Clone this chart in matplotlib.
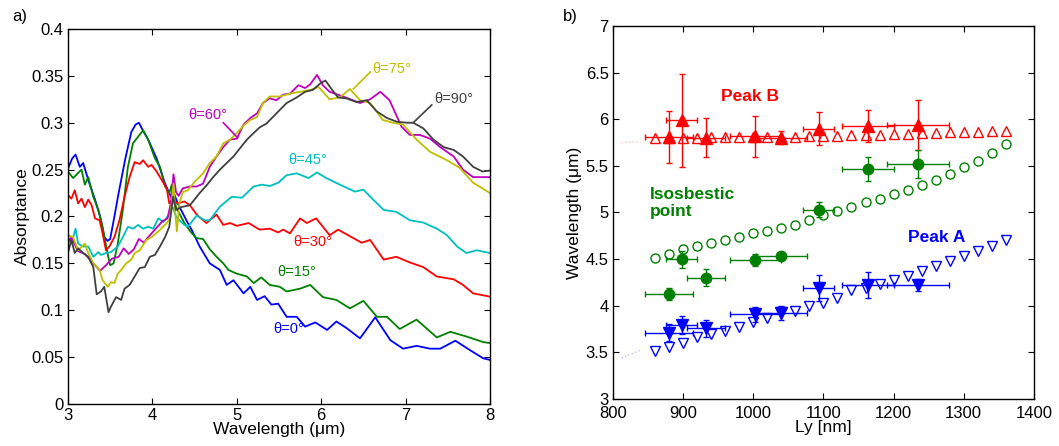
import numpy as np
import matplotlib
matplotlib.use("Agg")
import matplotlib.pyplot as plt
from matplotlib.ticker import FormatStrFormatter

plt.rcParams['font.family'] = ['Liberation Sans', 'DejaVu Sans']

# ---- panel a) absorptance spectra ----
wl_0 = [3.00, 3.05, 3.09, 3.14, 3.18, 3.24, 3.32, 3.38, 3.43, 3.47, 3.50, 3.55, 3.60, 3.68, 3.75, 3.80,
        3.84, 3.88, 3.95, 4.05, 4.15, 4.22, 4.25, 4.30, 4.42, 4.47, 4.56, 4.68, 4.80, 4.88, 4.96, 5.08,
        5.16, 5.24, 5.33, 5.41, 5.49, 5.59, 5.71, 5.81, 5.93, 6.07, 6.18, 6.30, 6.46, 6.64, 6.82, 6.97,
        7.13, 7.29, 7.41, 7.59, 7.76, 7.92, 8.00]
ab_0 = [0.251, 0.262, 0.266, 0.253, 0.257, 0.239, 0.218, 0.200, 0.178, 0.174, 0.176, 0.200, 0.225, 0.262,
        0.290, 0.298, 0.300, 0.293, 0.282, 0.262, 0.235, 0.221, 0.226, 0.214, 0.193, 0.185, 0.168, 0.150,
        0.143, 0.127, 0.132, 0.118, 0.125, 0.111, 0.115, 0.106, 0.107, 0.093, 0.093, 0.0825, 0.087, 0.079,
        0.088, 0.081, 0.070, 0.0925, 0.068, 0.059, 0.062, 0.059, 0.059, 0.0675, 0.0576, 0.0487, 0.047]

wl_15 = [3.00, 3.06, 3.16, 3.20, 3.24, 3.30, 3.36, 3.41, 3.47, 3.50, 3.54, 3.59, 3.65, 3.71, 3.77, 3.83,
         3.89, 3.95, 4.03, 4.09, 4.15, 4.20, 4.23, 4.28, 4.38, 4.45, 4.52, 4.60, 4.68, 4.76, 4.84, 4.90,
         5.00, 5.12, 5.20, 5.29, 5.39, 5.51, 5.59, 5.75, 5.87, 6.02, 6.18, 6.34, 6.50, 6.66, 6.78, 6.93,
         7.13, 7.37, 7.53, 7.72, 7.92, 8.00]
ab_15 = [0.248, 0.241, 0.250, 0.234, 0.242, 0.221, 0.207, 0.189, 0.160, 0.148, 0.150, 0.171, 0.207, 0.253,
         0.278, 0.285, 0.292, 0.282, 0.262, 0.253, 0.232, 0.225, 0.234, 0.210, 0.193, 0.184, 0.177, 0.176,
         0.165, 0.157, 0.150, 0.143, 0.139, 0.136, 0.129, 0.135, 0.127, 0.125, 0.120, 0.123, 0.127, 0.114,
         0.111, 0.102, 0.110, 0.093, 0.093, 0.080, 0.090, 0.071, 0.077, 0.072, 0.066, 0.065]

wl_30 = [3.00, 3.04, 3.08, 3.12, 3.16, 3.20, 3.24, 3.28, 3.32, 3.375, 3.41, 3.45, 3.49, 3.55, 3.61, 3.67,
         3.73, 3.79, 3.85, 3.89, 3.95, 3.99, 4.05, 4.11, 4.17, 4.20, 4.24, 4.30, 4.38, 4.445, 4.525, 4.64,
         4.76, 4.84, 4.92, 5.00, 5.14, 5.27, 5.39, 5.49, 5.55, 5.63, 5.75, 5.83, 5.94, 6.02, 6.10, 6.20,
         6.34, 6.48, 6.58, 6.74, 6.89, 7.05, 7.21, 7.37, 7.57, 7.68, 7.80, 8.00]
ab_30 = [0.223, 0.219, 0.228, 0.214, 0.219, 0.210, 0.218, 0.212, 0.198, 0.196, 0.182, 0.164, 0.168, 0.178,
         0.196, 0.221, 0.242, 0.258, 0.256, 0.260, 0.253, 0.255, 0.248, 0.239, 0.230, 0.214, 0.218, 0.214,
         0.216, 0.212, 0.202, 0.193, 0.202, 0.191, 0.193, 0.190, 0.193, 0.186, 0.187, 0.183, 0.186, 0.182,
         0.198, 0.193, 0.198, 0.189, 0.180, 0.186, 0.179, 0.172, 0.175, 0.154, 0.157, 0.151, 0.146, 0.136,
         0.133, 0.127, 0.118, 0.1145]

wl_45 = [3.00, 3.04, 3.09, 3.12, 3.18, 3.24, 3.30, 3.36, 3.39, 3.45, 3.51, 3.59, 3.65, 3.71, 3.77, 3.83,
         3.89, 3.95, 4.01, 4.07, 4.13, 4.18, 4.24, 4.28, 4.32, 4.38, 4.42, 4.525, 4.62, 4.68, 4.80, 4.94,
         5.06, 5.20, 5.30, 5.39, 5.49, 5.59, 5.71, 5.85, 5.95, 6.06, 6.22, 6.40, 6.50, 6.62, 6.74, 6.89,
         7.05, 7.21, 7.37, 7.49, 7.61, 7.72, 7.84, 8.00]
ab_45 = [0.178, 0.171, 0.187, 0.171, 0.168, 0.168, 0.157, 0.162, 0.159, 0.161, 0.162, 0.168, 0.178, 0.189,
         0.187, 0.191, 0.187, 0.189, 0.187, 0.198, 0.194, 0.200, 0.210, 0.200, 0.196, 0.191, 0.189, 0.201,
         0.196, 0.196, 0.2105, 0.221, 0.220, 0.232, 0.234, 0.2325, 0.236, 0.244, 0.246, 0.241, 0.247, 0.241,
         0.234, 0.2265, 0.2287, 0.2176, 0.207, 0.205, 0.196, 0.1935, 0.187, 0.180, 0.168, 0.161, 0.164, 0.161]

wl_60 = [3.00, 3.04, 3.08, 3.12, 3.20, 3.28, 3.34, 3.38, 3.45, 3.52, 3.60, 3.66, 3.72, 3.78, 3.84, 3.90,
         3.95, 4.05, 4.12, 4.18, 4.22, 4.25, 4.28, 4.31, 4.36, 4.445, 4.525, 4.60, 4.68, 4.76, 4.84, 4.92,
         5.00, 5.08, 5.16, 5.24, 5.31, 5.39, 5.47, 5.55, 5.63, 5.73, 5.81, 5.87, 5.95, 6.02, 6.10, 6.26,
         6.46, 6.58, 6.70, 6.81, 6.95, 7.05, 7.17, 7.29, 7.41, 7.57, 7.68, 7.80, 8.00]
ab_60 = [0.172, 0.178, 0.170, 0.163, 0.160, 0.152, 0.146, 0.142, 0.148, 0.155, 0.157, 0.166, 0.160, 0.165,
         0.176, 0.172, 0.178, 0.188, 0.195, 0.198, 0.215, 0.245, 0.226, 0.222, 0.230, 0.232, 0.232, 0.235,
         0.253, 0.264, 0.274, 0.282, 0.283, 0.298, 0.305, 0.310, 0.321, 0.326, 0.324, 0.330, 0.331, 0.340,
         0.337, 0.341, 0.351, 0.340, 0.333, 0.328, 0.321, 0.325, 0.333, 0.324, 0.296, 0.287, 0.287, 0.283,
         0.274, 0.264, 0.250, 0.242, 0.242]

wl_75 = [3.00, 3.06, 3.12, 3.20, 3.24, 3.30, 3.375, 3.41, 3.47, 3.51, 3.55, 3.59, 3.63, 3.69, 3.75, 3.79,
         3.85, 3.93, 3.99, 4.07, 4.17, 4.21, 4.25, 4.27, 4.29, 4.32, 4.36, 4.42, 4.50, 4.60, 4.68, 4.76,
         4.84, 4.92, 5.00, 5.08, 5.16, 5.24, 5.31, 5.39, 5.51, 5.63, 5.75, 5.87, 5.97, 6.02, 6.10, 6.22,
         6.34, 6.46, 6.58, 6.73, 6.85, 6.97, 7.13, 7.29, 7.49, 7.64, 7.80, 8.00]
ab_75 = [0.180, 0.178, 0.164, 0.171, 0.161, 0.150, 0.143, 0.132, 0.125, 0.130, 0.129, 0.139, 0.143, 0.150,
         0.154, 0.161, 0.164, 0.175, 0.178, 0.184, 0.193, 0.198, 0.235, 0.205, 0.184, 0.214, 0.226, 0.228,
         0.237, 0.246, 0.257, 0.264, 0.278, 0.282, 0.289, 0.297, 0.303, 0.306, 0.321, 0.328, 0.328, 0.331,
         0.333, 0.335, 0.338, 0.333, 0.325, 0.327, 0.336, 0.324, 0.321, 0.303, 0.300, 0.298, 0.282, 0.269,
         0.260, 0.252, 0.236, 0.225]

wl_90 = [3.00, 3.04, 3.08, 3.12, 3.18, 3.24, 3.30, 3.34, 3.39, 3.43, 3.48, 3.51, 3.57, 3.63, 3.67, 3.73,
         3.79, 3.85, 3.91, 3.97, 4.03, 4.09, 4.15, 4.20, 4.245, 4.28, 4.34, 4.445, 4.56, 4.64, 4.72, 4.80,
         4.88, 4.96, 5.04, 5.12, 5.20, 5.27, 5.35, 5.47, 5.59, 5.71, 5.81, 5.90, 5.99, 6.05, 6.13, 6.20,
         6.30, 6.42, 6.54, 6.66, 6.78, 6.90, 7.02, 7.09, 7.21, 7.33, 7.45, 7.57, 7.68, 7.80, 7.91, 8.00]
ab_90 = [0.161, 0.175, 0.161, 0.166, 0.161, 0.157, 0.146, 0.117, 0.120, 0.125, 0.098, 0.104, 0.114, 0.111,
         0.123, 0.127, 0.136, 0.145, 0.146, 0.157, 0.159, 0.168, 0.178, 0.189, 0.221, 0.207, 0.210, 0.212,
         0.225, 0.233, 0.242, 0.250, 0.257, 0.264, 0.273, 0.282, 0.289, 0.295, 0.299, 0.310, 0.321, 0.327,
         0.333, 0.335, 0.342, 0.345, 0.335, 0.327, 0.326, 0.322, 0.324, 0.312, 0.305, 0.301, 0.300, 0.300,
         0.294, 0.282, 0.274, 0.271, 0.264, 0.253, 0.248, 0.249]

# ---- panel b) peak positions vs Ly ----
ly_sim = [860, 880, 900, 920, 940, 960, 980, 1000, 1020, 1040, 1060, 1080, 1100, 1120, 1140, 1160,
          1180, 1200, 1220, 1240, 1260, 1280, 1300, 1320, 1340, 1360]
peakB_sim = [5.80, 5.80, 5.80, 5.80, 5.81, 5.81, 5.81, 5.81, 5.81, 5.81, 5.81, 5.82, 5.82, 5.82, 5.83,
             5.83, 5.83, 5.84, 5.84, 5.85, 5.85, 5.86, 5.86, 5.86, 5.87, 5.87]
iso_sim = [4.51, 4.56, 4.605, 4.645, 4.675, 4.705, 4.74, 4.775, 4.805, 4.835, 4.87, 4.92, 4.97, 5.02,
           5.06, 5.11, 5.15, 5.20, 5.245, 5.295, 5.345, 5.41, 5.485, 5.555, 5.64, 5.735]
peakA_sim = [3.51, 3.56, 3.60, 3.67, 3.70, 3.73, 3.775, 3.83, 3.865, 3.935, 3.94, 4.00, 4.03, 4.08,
             4.17, 4.19, 4.23, 4.28, 4.32, 4.375, 4.43, 4.48, 4.53, 4.59, 4.64, 4.705]

ly_exp = [880, 898, 933, 1003, 1040, 1093, 1164, 1235]
ly_err = [34, 22, 27, 36, 36, 22, 37, 44]
peakB_exp = [5.81, 5.99, 5.80, 5.82, 5.80, 5.90, 5.93, 5.94]
peakB_err = [0.28, 0.50, 0.21, 0.22, 0.07, 0.18, 0.17, 0.265]
iso_exp = [4.13, 4.50, 4.30, 4.49, 4.53, 5.03, 5.47, 5.52]
iso_err = [0.065, 0.09, 0.09, 0.06, 0.04, 0.08, 0.13, 0.145]
peakA_exp = [3.71, 3.79, 3.76, 3.91, 3.92, 4.19, 4.22, 4.22]
peakA_err = [0.09, 0.095, 0.09, 0.08, 0.075, 0.135, 0.14, 0.063]

# faint leftovers left of the simulated series
ly_faint = [812, 838]
peakB_faint = [5.75, 5.76]
peakA_faint = [3.44, 3.52]

blue = '#0000ff'
green = '#008000'
red = '#ff0000'
cyan = '#00bfbf'
magenta = '#bf00bf'
yellow = '#bfbf00'
dark = '#404040'

fig = plt.figure(figsize=(10.59, 4.46), dpi=100)
ax1 = fig.add_axes([0.0642, 0.0942, 0.3985, 0.8408])
ax2 = fig.add_axes([0.5788, 0.1054, 0.3975, 0.8363])

lw = 1.3
ax1.plot(wl_0, ab_0, color=blue, lw=lw)
ax1.plot(wl_15, ab_15, color=green, lw=lw)
ax1.plot(wl_30, ab_30, color=red, lw=lw)
ax1.plot(wl_45, ab_45, color=cyan, lw=lw)
ax1.plot(wl_60, ab_60, color=magenta, lw=lw)
ax1.plot(wl_75, ab_75, color=yellow, lw=lw)
ax1.plot(wl_90, ab_90, color=dark, lw=lw)

fs_ann = 10.5
ax1.text(5.61, 0.080, 'θ=0°', color=blue, fontsize=fs_ann, ha='center', va='center')
ax1.text(5.71, 0.141, 'θ=15°', color=green, fontsize=fs_ann, ha='center', va='center')
ax1.text(5.90, 0.173, 'θ=30°', color=red, fontsize=fs_ann, ha='center', va='center')
ax1.text(5.84, 0.260, 'θ=45°', color=cyan, fontsize=fs_ann, ha='center', va='center')
ax1.text(4.65, 0.308, 'θ=60°', color=magenta, fontsize=fs_ann, ha='center', va='center')
ax1.plot([4.84, 5.01], [0.300, 0.284], color=magenta, lw=1.2)
ax1.text(6.84, 0.357, 'θ=75°', color=yellow, fontsize=fs_ann, ha='center', va='center')
ax1.plot([6.58, 6.38], [0.354, 0.336], color=yellow, lw=1.2)
ax1.text(7.57, 0.325, 'θ=90°', color=dark, fontsize=fs_ann, ha='center', va='center')
ax1.plot([7.31, 7.09], [0.319, 0.300], color=dark, lw=1.2)

ax1.set_xlim(3, 8)
ax1.set_ylim(0, 0.4)
ax1.set_xticks([3, 4, 5, 6, 7, 8])
ax1.set_yticks(np.arange(0, 0.401, 0.05))
ax1.yaxis.set_major_formatter(FormatStrFormatter('%g'))
ax1.set_xlabel('Wavelength (μm)', fontsize=12.5, labelpad=-1)
ax1.set_ylabel('Absorptance', fontsize=12.5, labelpad=1)

# panel b
ax2.plot(ly_faint, peakB_faint, ':', color=red, lw=1, alpha=0.25)
ax2.plot(ly_faint, peakA_faint, ':', color=blue, lw=1, alpha=0.25)
ax2.plot(ly_sim, peakB_sim, '^', ms=7, mfc='none', mec=red, mew=1)
ax2.plot(ly_sim, iso_sim, 'o', ms=6.5, mfc='none', mec=green, mew=1)
ax2.plot(ly_sim, peakA_sim, 'v', ms=7, mfc='none', mec=blue, mew=1)

ekw = dict(fmt='none', elinewidth=1, capsize=2, capthick=1)
ax2.errorbar(ly_exp, peakB_exp, yerr=peakB_err, xerr=ly_err, ecolor=red, **ekw)
ax2.errorbar(ly_exp, iso_exp, yerr=iso_err, xerr=ly_err, ecolor=green, **ekw)
ax2.errorbar(ly_exp, peakA_exp, yerr=peakA_err, xerr=ly_err, ecolor=blue, **ekw)
ax2.plot(ly_exp, peakB_exp, '^', ms=8, color=red, mec=red)
ax2.plot(ly_exp, iso_exp, 'o', ms=7.5, color=green, mec=green)
ax2.plot(ly_exp, peakA_exp, 'v', ms=8, color=blue, mec=blue)

ax2.text(995, 6.24, 'Peak B', color=red, fontsize=12.5, fontweight='bold', ha='center', va='center')
ax2.text(853, 5.10, 'Isosbestic\npoint', color=green, fontsize=12.5, fontweight='bold',
         ha='left', va='center', linespacing=1.2)
ax2.text(1262, 4.73, 'Peak A', color=blue, fontsize=12.5, fontweight='bold', ha='center', va='center')

ax2.set_xlim(800, 1400)
ax2.set_ylim(3, 7)
ax2.set_xticks(np.arange(800, 1401, 100))
ax2.set_yticks(np.arange(3, 7.01, 0.5))
ax2.yaxis.set_major_formatter(FormatStrFormatter('%g'))
ax2.set_xlabel('Ly [nm]', fontsize=12.5, labelpad=-1)
ax2.set_ylabel('Wavelength (μm)', fontsize=12.5, labelpad=3)

for ax in (ax1, ax2):
    ax.tick_params(direction='in', top=True, right=True, length=4, width=0.8, labelsize=12, pad=3)
    for s in ax.spines.values():
        s.set_linewidth(1.0)
ax2.tick_params(axis='x', pad=5)

fig.text(0.012, 0.962, 'a)', fontsize=12, va='center')
fig.text(0.532, 0.962, 'b)', fontsize=12, va='center')

fig.savefig('out.png', dpi=100)
